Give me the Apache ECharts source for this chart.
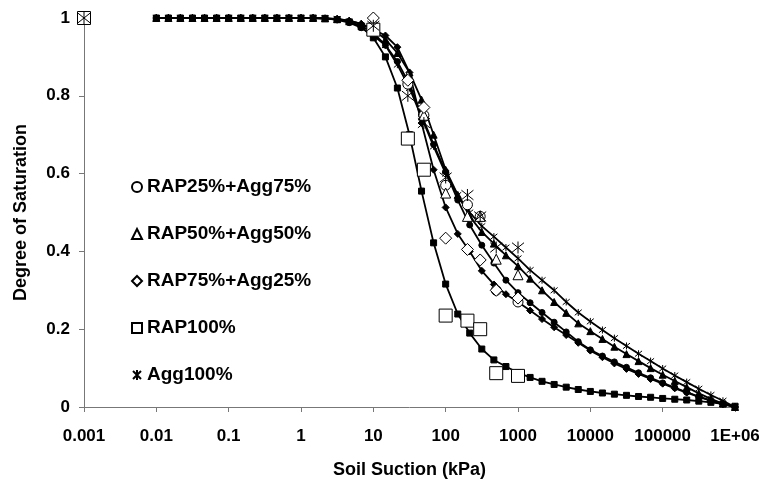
<!DOCTYPE html>
<html>
<head>
<meta charset="utf-8">
<script src="https://cdn.jsdelivr.net/npm/echarts@6/dist/echarts.min.js"></script>
<style>
html,body{margin:0;padding:0;background:#fff;}
#chart{width:764px;height:485px;}
</style>
</head>
<body>
<div id="chart"></div>
<script>
// ---- data ----
const xTickLabels = ['0.001','0.01','0.1','1','10','100','1000','10000','100000','1E+06'];
const yTickLabels = ['0','0.2','0.4','0.6','0.8','1'];
const seriesNames = ['RAP25%+Agg75%','RAP50%+Agg50%','RAP75%+Agg25%','RAP100%','Agg100%'];

// measured suction values (kPa)
const measSuction = [0.001, 10, 30, 50, 100, 200, 300, 500, 1000];
const measRAP25 = [1.0, 0.98, 0.83, 0.75, 0.57, 0.52, 0.49, 0.30, 0.27];
const measRAP50 = [1.0, 0.98, 0.85, 0.75, 0.55, 0.49, 0.49, 0.38, 0.34];
const measRAP75 = [1.0, 1.0, 0.84, 0.77, 0.434, 0.405, 0.378, 0.30, 0.28];
const measRAP100 = [1.0, 0.97, 0.69, 0.61, 0.235, 0.222, 0.20, 0.087, 0.08];
const measAgg100 = [1.0, 0.98, 0.80, 0.73, 0.59, 0.545, 0.49, 0.41, 0.41];

// fitted curve suction values (kPa)
const fitSuction = [0.01,0.0147,0.0215,0.0316,0.0464,0.0681,0.1,0.147,0.215,0.316,0.464,0.681,
  1,1.47,2.15,3.16,4.64,6.81,10,14.7,21.5,31.6,46.4,68.1,100,147,215,316,464,681,
  1000,1470,2150,3160,4640,6810,10000,14700,21500,31600,46400,68100,
  100000,147000,215000,316000,464000,681000,1000000];
const fitRAP25 = [1,1,1,1,1,1,1,1,1,1,1,1,1,1,
  0.999,0.995,0.988,0.975,0.955,0.93,0.888,0.83,0.75,0.675,0.605,0.532,0.468,0.416,0.37,0.326,
  0.294,0.268,0.243,0.218,0.193,0.168,0.147,0.131,0.116,0.102,0.088,0.075,0.062,0.05,0.038,0.027,0.017,0.008,0];
const fitRAP50 = [1,1,1,1,1,1,1,1,1,1,1,1,1,1,
  0.999,0.997,0.993,0.985,0.97,0.945,0.91,0.86,0.79,0.70,0.61,0.545,0.49,0.45,0.42,0.39,
  0.362,0.33,0.30,0.27,0.242,0.215,0.195,0.175,0.155,0.136,0.118,0.10,0.083,0.067,0.051,0.035,0.021,0.009,0];
const fitRAP75 = [1,1,1,1,1,1,1,1,1,1,1,1,1,1,
  0.999,0.998,0.993,0.985,0.97,0.955,0.925,0.86,0.73,0.61,0.513,0.445,0.40,0.35,0.315,0.29,
  0.27,0.248,0.226,0.205,0.185,0.165,0.145,0.128,0.112,0.098,0.085,0.072,0.06,0.048,0.037,0.026,0.016,0.007,0];
const fitRAP100 = [1,1,1,1,1,1,1,1,1,1,1,1,1,1,
  0.999,0.996,0.99,0.977,0.949,0.90,0.82,0.70,0.555,0.422,0.316,0.239,0.19,0.149,0.121,0.104,
  0.088,0.076,0.066,0.058,0.051,0.045,0.04,0.036,0.033,0.03,0.027,0.025,0.022,0.02,0.018,0.015,0.012,0.008,0.002];
const fitAgg100 = [1,1,1,1,1,1,1,1,1,1,1,1,1,1,
  0.999,0.997,0.99,0.98,0.962,0.93,0.88,0.82,0.745,0.67,0.60,0.545,0.50,0.465,0.438,0.41,
  0.382,0.352,0.326,0.30,0.27,0.243,0.22,0.198,0.177,0.157,0.137,0.118,0.099,0.081,0.064,0.047,0.031,0.016,0];

// ---- chart ----
const STAR = 'path://M1,1L9,9M9,1L1,9M5,0L5,10';
const FONT = 'Liberation Sans, Arial, sans-serif';
function pairs(xs, ys){ return xs.map((x,i)=>[x, ys[i]]); }

const measList = [measRAP25, measRAP50, measRAP75, measRAP100, measAgg100];
const fitList = [fitRAP25, fitRAP50, fitRAP75, fitRAP100, fitAgg100];
const openSym = ['circle','triangle','diamond','rect', STAR];
const openSize = [10, 10, 12, 13, 12];
const fitSym = ['circle','triangle','diamond','rect', STAR];
const fitSize = [6, 7, 7, 6, 7];

const series = [];
fitList.forEach((ys, k) => {
  series.push({
    name: 'fit' + k, type: 'line', data: pairs(fitSuction, ys),
    symbol: fitSym[k], symbolSize: fitSize[k], showAllSymbol: true,
    lineStyle: {color: '#000', width: 1.8},
    itemStyle: {color: '#000', borderColor: '#000', borderWidth: 1},
    z: 2, silent: true, animation: false
  });
});
measList.forEach((ys, k) => {
  series.push({
    name: seriesNames[k], type: 'scatter', data: pairs(measSuction, ys),
    symbol: openSym[k], symbolSize: openSize[k],
    itemStyle: {color: '#fff', borderColor: '#000', borderWidth: 1, opacity: 1},
    z: 3, animation: false
  });
});

const chart = echarts.init(document.getElementById('chart'), null, {renderer: 'canvas'});
chart.setOption({
  animation: false,
  backgroundColor: '#fff',
  grid: {left: 84, right: 29, top: 18, bottom: 78, containLabel: false},
  xAxis: {
    type: 'log', logBase: 10, min: 0.001, max: 1000000,
    name: 'Soil Suction (kPa)', nameLocation: 'middle', nameGap: 54,
    nameTextStyle: {fontFamily: FONT, fontWeight: 'bold', fontSize: 18, color: '#000'},
    axisLine: {lineStyle: {color: '#777', width: 1}},
    axisTick: {show: true, length: 5, inside: false, lineStyle: {color: '#777'}},
    minorTick: {show: false},
    splitLine: {show: false},
    axisLabel: {
      fontFamily: FONT, fontWeight: 'bold', fontSize: 17, color: '#000', margin: 21,
      formatter: v => xTickLabels[Math.round(Math.log10(v)) + 3]
    }
  },
  yAxis: {
    type: 'value', min: 0, max: 1, interval: 0.2,
    name: 'Degree of Saturation', nameLocation: 'middle', nameGap: 54, nameRotate: 90,
    nameTextStyle: {fontFamily: FONT, fontWeight: 'bold', fontSize: 18, color: '#000'},
    axisLine: {show: true, lineStyle: {color: '#777', width: 1}},
    axisTick: {show: true, length: 5, lineStyle: {color: '#777'}},
    splitLine: {show: false},
    axisLabel: {
      fontFamily: FONT, fontWeight: 'bold', fontSize: 17, color: '#000', margin: 14,
      formatter: v => yTickLabels[Math.round(v * 5)]
    }
  },
  legend: {
    data: seriesNames, orient: 'vertical', left: 126, top: 172,
    itemWidth: 10, itemHeight: 10, itemGap: 27,
    textStyle: {fontFamily: FONT, fontWeight: 'bold', fontSize: 19, color: '#000', lineHeight: 20},
    selectedMode: false
  },
  series: series
});
</script>
</body>
</html>
